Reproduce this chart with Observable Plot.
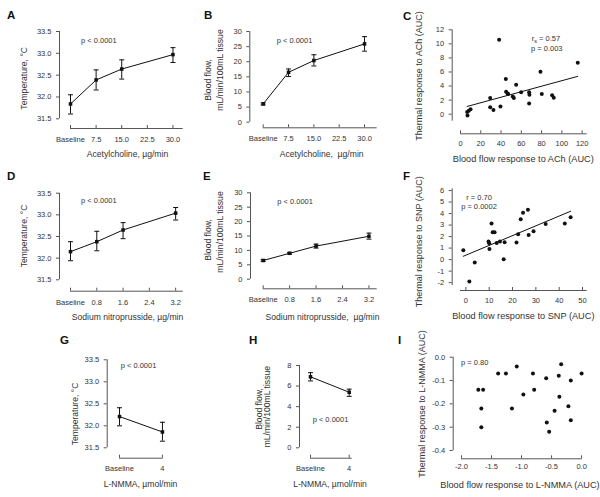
<!DOCTYPE html>
<html><head><meta charset="utf-8">
<script src="https://cdn.jsdelivr.net/npm/d3@7"></script>
<script src="https://cdn.jsdelivr.net/npm/@observablehq/plot@0.6"></script>
<style>
body{margin:0;background:#fff;}
#fig{position:relative;width:600px;height:497px;overflow:hidden;background:#fff;font-family:"Liberation Sans",Arial,sans-serif;}
#fig svg{position:absolute;left:0;top:0;}
</style></head><body><div id="fig"></div>
<script>
// ---------- data ----------
const achDose = [0, 7.5, 15, 30];
const achTicks = [0, 7.5, 15, 22.5, 30];
const achTickLabels = ["Baseline", "7.5", "15.0", "22.5", "30.0"];
const achTempMean = [31.84, 32.39, 32.64, 32.97];
const achTempLo = [31.61, 32.16, 32.41, 32.79];
const achTempHi = [32.05, 32.62, 32.85, 33.13];
const achFlowMean = [6.06, 16.5, 20.4, 25.9];
const achFlowLo = [5.7, 15.1, 18.6, 23.5];
const achFlowHi = [6.4, 17.6, 22.3, 28.3];

const snpDose = [0, 0.8, 1.6, 3.2];
const snpTicks = [0, 0.8, 1.6, 2.4, 3.2];
const snpTickLabels = ["Baseline", "0.8", "1.6", "2.4", "3.2"];
const snpTempMean = [32.15, 32.38, 32.65, 33.04];
const snpTempLo = [31.94, 32.17, 32.45, 32.88];
const snpTempHi = [32.38, 32.62, 32.82, 33.17];
const snpFlowMean = [6.5, 9.0, 11.5, 14.9];
const snpFlowLo = [6.2, 8.7, 10.8, 13.9];
const snpFlowHi = [6.8, 9.3, 12.2, 16.0];

const nmmaDose = [0, 4];
const nmmaTickLabels = ["Baseline", "4"];
const nmmaTempMean = [32.21, 31.86];
const nmmaTempLo = [32.0, 31.65];
const nmmaTempHi = [32.41, 32.08];
const nmmaFlowMean = [6.9, 5.4];
const nmmaFlowLo = [6.5, 5.0];
const nmmaFlowHi = [7.3, 5.7];

const tempTicks = [31.5, 32.0, 32.5, 33.0, 33.5];
const flowTicks = [0, 5, 10, 15, 20, 25, 30];
const flowTicksH = [0, 2, 4, 6, 8];

const achFlowAUC = [6.9, 6.6, 8.2, 9.9, 29.3, 29.3, 32.5, 38.1, 39.4, 44.7, 45, 46.4, 47, 51.6, 52.6, 54.9, 59.8, 67.7, 68, 67.7, 78.9, 80.2, 90.4, 92, 115.7];
const achThermAUC = [-0.2, 0.3, 0.5, 0.7, 2.3, 1.0, 0.6, 10.6, 1.1, 5.0, 3.2, 2.95, 2.86, 2.5, 2.3, 4.2, 3.1, 3.1, 2.76, 1.5, 6.05, 2.86, 2.7, 2.33, 7.33];
const achFitX = [6.6, 115.7];
const achFitY = [1.1, 5.38];
const cXTicks = [0, 20, 40, 60, 80, 100, 120];
const cYTicks = [0, 2, 4, 6, 8, 10, 12];

const snpFlowAUC = [-1.1, 1.5, 3.8, 9.7, 10.0, 10.1, 11.0, 11.5, 12.3, 13.2, 14.6, 16.2, 16.6, 21.7, 22.4, 23.5, 24.5, 26.6, 26.9, 29.0, 34.2, 42.4, 44.9];
const snpThermAUC = [0.81, -1.9, -0.26, 1.57, 1.42, 0.93, 3.13, 2.38, 2.38, 1.45, 1.57, 0.03, 1.5, 1.48, 2.2, 3.5, 4.06, 4.32, 2.14, 2.46, 3.1, 3.13, 3.68];
const snpFitX = [-1.1, 44.9];
const snpFitY = [0.29, 4.2];
const fXTicks = [0, 10, 20, 30, 40, 50];
const fYTicks = [-2, -1, 0, 1, 2, 3, 4, 5, 6];

const nmmaFlowAUC = [-1.72, -1.64, -1.67, -1.67, -1.39, -1.26, -1.16, -1.08, -0.97, -0.81, -0.79, -0.59, -0.58, -0.54, -0.45, -0.38, -0.37, -0.34, -0.22, -0.18, -0.18, 0.0];
const nmmaThermAUC = [-0.14, -0.14, -0.22, -0.30, -0.07, -0.07, -0.22, -0.04, -0.16, -0.07, -0.14, -0.09, -0.28, -0.32, -0.23, -0.08, -0.17, -0.03, -0.21, -0.27, -0.10, -0.07];
const iXTicks = [-2, -1.5, -1, -0.5, 0];
const iYTicks = [-0.4, -0.3, -0.2, -0.1, 0];

// ---------- helpers ----------
const AX = "#555", TX = "#333";
const fig = document.getElementById("fig");
const rows = (xs, m, lo, hi) => xs.map((x, i) => ({x, m: m[i], lo: lo[i], hi: hi[i]}));
const pts = (xs, ys) => xs.map((x, i) => ({x, y: ys[i]}));
const capSymbol = {draw(ctx, size) { const r = Math.sqrt(size / Math.PI); ctx.moveTo(-r, 0); ctx.lineTo(r, 0); }};

function panel(c, marks) {
  const xfmt = c.xl ? (d => c.xl[c.xt.indexOf(d)]) : c.xf;
  const svg = Plot.plot({
    width: 600, height: 497,
    marginLeft: c.L, marginRight: 600 - c.R, marginTop: c.T, marginBottom: 497 - c.B,
    x: {domain: c.xd}, y: {domain: c.yd},
    style: {background: "none", overflow: "visible", fontFamily: "'Liberation Sans', Arial, sans-serif", fontSize: "7.5px"},
    marks: [
      Plot.ruleX([c.xd[0]], {dx: c.dx, stroke: AX}),
      Plot.ruleY([c.yd[0]], {dy: c.dy, stroke: AX}),
      Plot.axisY(c.yt, {tickSize: 3, tickPadding: 5, dx: c.dx, tickFormat: c.yf, stroke: AX, fill: TX, label: null}),
      Plot.axisX(c.xt, {tickSize: -3, tickPadding: c.pad ?? 11, dy: c.dy, tickFormat: xfmt, stroke: AX, fill: TX, label: null}),
      ...marks
    ]
  });
  fig.appendChild(svg);
}
function linePanel(c, data) {
  panel(c, [
    Plot.ruleX(data, {x: "x", y1: "lo", y2: "hi", stroke: "#111", strokeWidth: 1}),
    Plot.dot(data, {x: "x", y: "lo", symbol: capSymbol, r: 2.5, stroke: "#111", strokeWidth: 1, fill: "none"}),
    Plot.dot(data, {x: "x", y: "hi", symbol: capSymbol, r: 2.5, stroke: "#111", strokeWidth: 1, fill: "none"}),
    Plot.line(data, {x: "x", y: "m", stroke: "#111", strokeWidth: 1}),
    Plot.dot(data, {x: "x", y: "m", symbol: "square", r: 2, fill: "#111"})
  ]);
}
function scatterPanel(c, data, fit) {
  panel(c, [
    ...(fit ? [Plot.line(fit, {x: "x", y: "y", stroke: "#111", strokeWidth: 1})] : []),
    Plot.dot(data, {x: "x", y: "y", r: 2, fill: "#111"})
  ]);
}
const f1 = d => d.toFixed(1), f0 = d => String(d);

// ---------- panels ----------
linePanel({L: 70, R: 182.7, T: 31, B: 118.3, xd: [0, 33], yd: [31.5, 33.5], dx: -11, dy: 9.7, xt: achTicks, xl: achTickLabels, yt: tempTicks, yf: f1}, rows(achDose, achTempMean, achTempLo, achTempHi));
linePanel({L: 262.7, R: 376.7, T: 31, B: 121.7, xd: [0, 33.75], yd: [0, 30], dx: -13.4, dy: 5.6, xt: achTicks, xl: achTickLabels, yt: flowTicks, yf: f0}, rows(achDose, achFlowMean, achFlowLo, achFlowHi));
scatterPanel({L: 460, R: 586.7, T: 29.3, B: 120.7, xd: [0, 125], yd: [-1, 12], dx: -8.3, dy: 12.6, xt: cXTicks, xf: f0, yt: cYTicks, yf: f0, pad: 10}, pts(achFlowAUC, achThermAUC), pts(achFitX, achFitY));

linePanel({L: 70, R: 182.7, T: 192.7, B: 279.3, xd: [0, 3.43], yd: [31.5, 33.5], dx: -11, dy: 11.4, xt: snpTicks, xl: snpTickLabels, yt: tempTicks, yf: f1}, rows(snpDose, snpTempMean, snpTempLo, snpTempHi));
linePanel({L: 262.7, R: 376.7, T: 192.3, B: 278.7, xd: [0, 3.45], yd: [0, 30], dx: -12.7, dy: 9.6, xt: snpTicks, xl: snpTickLabels, yt: flowTicks, yf: f0}, rows(snpDose, snpFlowMean, snpFlowLo, snpFlowHi));
scatterPanel({L: 460, R: 586.7, T: 188.3, B: 285, xd: [-2.3, 52], yd: [-2.25, 6.15], dx: -8.3, dy: 5, xt: fXTicks, xf: f0, yt: fYTicks, yf: f0, pad: 10}, pts(snpFlowAUC, snpThermAUC), pts(snpFitX, snpFitY));

linePanel({L: 119, R: 162.7, T: 359.3, B: 447.3, xd: [0, 4.07], yd: [31.5, 33.5], dx: -12.3, dy: 10.4, xt: nmmaDose, xl: nmmaTickLabels, yt: tempTicks, yf: f1, pad: 10}, rows(nmmaDose, nmmaTempMean, nmmaTempLo, nmmaTempHi));
linePanel({L: 310, R: 351.7, T: 365, B: 447.3, xd: [0, 4.31], yd: [0, 8], dx: -11, dy: 10.4, xt: nmmaDose, xl: nmmaTickLabels, yt: flowTicksH, yf: f0, pad: 10}, rows(nmmaDose, nmmaFlowMean, nmmaFlowLo, nmmaFlowHi));
scatterPanel({L: 461, R: 581.7, T: 356.7, B: 450, xd: [-2, 0.01], yd: [-0.4, 0], dx: -8.3, dy: 8.3, xt: iXTicks, xf: f1, yt: iYTicks, yf: f1, pad: 8}, pts(nmmaFlowAUC, nmmaThermAUC), null);

// ---------- text overlay ----------
const letters = [["A", 7, 19], ["B", 204, 19], ["C", 403, 19.5], ["D", 7, 180], ["E", 203, 180], ["F", 403, 180], ["G", 60, 344], ["H", 249, 344], ["I", 398, 344]];
const xTitles = [
  ["Acetylcholine, \u00b5g/min", 127.5, 157, 8.6], ["Acetylcholine,\u00a0 \u00b5g/min", 321.7, 157, 8.6], ["Blood flow response to ACh (AUC)", 523.3, 161.5, 9.2],
  ["Sodium nitroprusside, \u00b5g/min", 127.5, 320, 8.6], ["Sodium nitroprusside,\u00a0 \u00b5g/min", 322.5, 320, 8.6], ["Blood flow response to SNP (AUC)", 523.3, 319.3, 9.2],
  ["L-NMMA, \u00b5mol/min", 140.5, 486.7, 8.6], ["L-NMMA, \u00b5mol/min", 330, 486.7, 8.6], ["Blood flow response to L-NMMA (AUC)", 520, 488.3, 9.2]
];
const yTitles = [
  ["Temperature, \u00b0C", 27, 78.3, 8.6], ["Blood flow,", 211, 80, 8.6], ["mL/min/100mL tissue", 222.5, 70, 8.6], ["Thermal response to ACh (AUC)", 422, 76, 9],
  ["Temperature, \u00b0C", 27, 236, 8.6], ["Blood flow,", 211, 240, 8.6], ["mL/min/100mL tissue", 222.5, 232, 8.6], ["Thermal response to SNP (AUC)", 422, 241.7, 9],
  ["Temperature, \u00b0C", 77.5, 414, 8.6], ["Blood flow,", 262, 409, 8.6], ["mL/min/100mL tissue", 270, 406.7, 8.6], ["Thermal response to L-NMMA (AUC)", 425, 404, 9]
];
const stats = [
  ["p < 0.0001", 81, 43, "start"], ["p < 0.0001", 276.7, 43, "start"], ["p = 0.003", 531, 51.3, "start"],
  ["p < 0.0001", 81, 203.3, "start"], ["p < 0.0001", 277.3, 204, "start"], ["r = 0.70", 479, 200, "middle"], ["p = 0.0002", 479, 209.3, "middle"],
  ["p < 0.0001", 120.7, 368, "start"], ["p < 0.0001", 330.5, 422, "middle"], ["p = 0.80", 461, 365, "start"]
];
const ov = d3.create("svg").attr("width", 600).attr("height", 497)
  .style("font-family", "'Liberation Sans', Arial, sans-serif").style("pointer-events", "none");
ov.selectAll(".lt").data(letters).join("text").attr("x", d => d[1]).attr("y", d => d[2])
  .attr("font-size", 11.5).attr("font-weight", "bold").attr("fill", "#111").text(d => d[0]);
ov.selectAll(".xt").data(xTitles).join("text").attr("x", d => d[1]).attr("y", d => d[2])
  .attr("font-size", d => d[3]).attr("text-anchor", "middle").attr("fill", TX).text(d => d[0]);
ov.selectAll(".yt").data(yTitles).join("text").attr("transform", d => `translate(${d[1]},${d[2]}) rotate(-90)`)
  .attr("font-size", d => d[3]).attr("text-anchor", "middle").attr("fill", TX).text(d => d[0]);
ov.selectAll(".st").data(stats).join("text").attr("x", d => d[1]).attr("y", d => d[2])
  .attr("font-size", 7.5).attr("text-anchor", d => d[3]).attr("fill", TX).text(d => d[0]);
const rs = ov.append("text").attr("x", 531.7).attr("y", 41.3).attr("font-size", 7.5).attr("fill", TX);
rs.append("tspan").text("r");
rs.append("tspan").attr("font-size", 5.5).attr("dy", 1.5).text("s");
rs.append("tspan").attr("dy", -1.5).text(" = 0.57");
fig.appendChild(ov.node());
</script></body></html>
